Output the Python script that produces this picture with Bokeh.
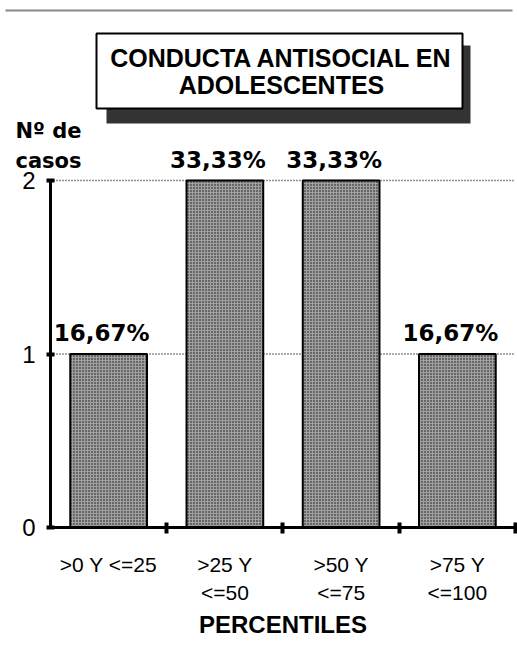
from bokeh.plotting import figure
from bokeh.models import Range1d, FixedTicker, Label, BoxAnnotation
from bokeh.embed import file_html
from bokeh.resources import INLINE
from bokeh.core.properties import value

# ---- data ----
categories = [">0 Y <=25", ">25 Y\n<=50", ">50 Y\n<=75", ">75 Y\n<=100"]
counts = [1, 2, 2, 1]
percent_labels = ["16,67%", "33,33%", "33,33%", "16,67%"]
y_ticks = [0, 1, 2]
title_lines = ["CONDUCTA ANTISOCIAL EN", "ADOLESCENTES"]
y_title_lines = ["Nº de", "casos"]
x_title = "PERCENTILES"

W, H = 517, 672
n = len(categories)
centers = [i + 0.5 for i in range(n)]
bounds_ticks = [i + 1 for i in range(n)]
grid_ticks = [t for t in y_ticks if t > 0]

# frame covers the whole canvas; axes are drawn at fixed data locations
p = figure(width=W, height=H, output_backend="svg", toolbar_location=None,
           x_range=Range1d(-0.4301, 4.0172), y_range=Range1d(-0.8357, 3.0375),
           min_border_left=0, min_border_right=0, min_border_top=0,
           min_border_bottom=0)
p.outline_line_color = None
p.background_fill_color = "white"
p.border_fill_color = "white"
p.xgrid.visible = False
p.ygrid.visible = False

# dotted reference lines
p.segment(x0=[0] * len(grid_ticks), x1=[n] * len(grid_ticks), y0=grid_ticks,
          y1=grid_ticks, line_color="#222222", line_dash="1 2", line_width=1.5)

# bars
p.vbar(x=centers, top=counts, width=0.66, bottom=0,
       fill_color="#a0a0a0", line_color="black", line_width=2,
       hatch_pattern="dot", hatch_color="#111111", hatch_scale=3, hatch_weight=1)

# percentage labels
p.text(x=centers, y=counts, text=percent_labels, text_align="center",
       text_baseline="alphabetic", y_offset=-21, x_offset=-7,
       text_font=value("DejaVu Sans"), text_font_style="bold",
       text_font_size="23px", text_color="black")

# y axis
ya = p.yaxis[0]
ya.fixed_location = 0
ya.ticker = FixedTicker(ticks=y_ticks)
ya.bounds = (0, 2)
ya.axis_line_width = 3
ya.axis_line_color = "black"
ya.major_tick_in = 4
ya.major_tick_out = 4
ya.major_tick_line_width = 4
ya.minor_tick_line_color = None
ya.major_label_text_font = "Liberation Sans"
ya.major_label_text_font_size = "24px"
ya.major_label_text_color = "black"
ya.major_label_standoff = 11

# x axis
xa = p.xaxis[0]
xa.fixed_location = 0
xa.bounds = (0, n)
xa.ticker = FixedTicker(ticks=centers, minor_ticks=bounds_ticks)
xa.major_label_overrides = {c: lab for c, lab in zip(centers, categories)}
xa.axis_line_width = 3
xa.axis_line_color = "black"
xa.major_tick_line_color = None
xa.major_tick_in = 0
xa.major_tick_out = 0
xa.minor_tick_in = 5
xa.minor_tick_out = 6
xa.minor_tick_line_width = 4
xa.minor_tick_line_color = "black"
xa.major_label_text_font = "Liberation Sans"
xa.major_label_text_font_size = "21px"
xa.major_label_text_color = "black"
xa.major_label_text_line_height = 1.25
xa.major_label_standoff = 19
xa.axis_label = x_title
xa.axis_label_text_font = "Liberation Sans"
xa.axis_label_text_font_style = "bold"
xa.axis_label_text_font_size = "24px"
xa.axis_label_text_color = "black"
xa.axis_label_standoff = 4


def box(l, r, t, b, **kw):
    return BoxAnnotation(left=l, right=r, top=t, bottom=b,
                         left_units="canvas", right_units="canvas",
                         top_units="canvas", bottom_units="canvas", **kw)


# top rule
p.add_layout(box(5, 512, 9, 11, fill_color="#888888", fill_alpha=1, line_color=None))
# title shadow and box
p.add_layout(box(106, 470, 45, 123, fill_color="#333333", fill_alpha=1, line_color=None))
p.add_layout(box(96, 462, 33, 108, fill_color="white", fill_alpha=1,
                 line_color="black", line_width=2, line_alpha=1))
for line, yy in zip(title_lines, [57, 84]):
    p.add_layout(Label(x=281, y=yy, x_units="canvas", y_units="canvas",
                       text=line, text_align="center", text_baseline="middle",
                       text_font="Liberation Sans", text_font_style="bold",
                       text_font_size="25px", text_color="black"))
for line, yy in zip(y_title_lines, [130, 160]):
    p.add_layout(Label(x=15, y=yy, x_units="canvas", y_units="canvas",
                       text=line, text_align="left", text_baseline="alphabetic",
                       text_font="DejaVu Sans", text_font_style="bold",
                       text_font_size="21px", text_color="black"))

open("out.html", "w").write(file_html(p, INLINE))
